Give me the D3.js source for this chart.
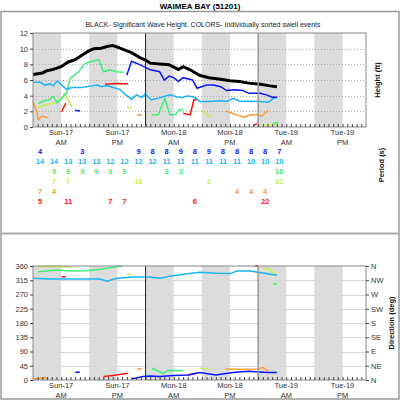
<!DOCTYPE html>
<html>
<head>
<meta charset="utf-8">
<script src="https://cdn.jsdelivr.net/npm/d3@7"></script>
<style>
body { margin: 0; background: #fff; }
text { font-family: "Liberation Sans", Arial, sans-serif; }
</style>
</head>
<body>
<div id="chart"></div>
<script>
// hours from Sun-17 00:00
var dayLabels = ["Sun-17", "Sun-17", "Mon-18", "Mon-18", "Tue-19", "Tue-19"];
var halfLabels = ["AM", "PM", "AM", "PM", "AM", "PM"];
var labelHours = [6, 18, 30, 42, 54, 66];
var bandStarts = [0, 12, 24, 36, 48, 60];
var heightTicks = [0, 2, 4, 6, 8, 10, 12];
var dirTicks = [0, 45, 90, 135, 180, 225, 270, 315, 360];
var dirNames = ["N", "NE", "E", "SE", "S", "SW", "W", "NW", "N"];

// significant wave height (ft)
var hsData = [[0,6.7],[2,6.9],[3,7.2],[4,7.3],[6,7.7],[7.5,8.3],[9,8.6],[10.5,9.2],[12,9.75],[13,10.0],[14.5,10.05],[16,10.3],[17,10.4],[18,10.2],[19.5,9.85],[21,9.5],[23,8.8],[24,8.55],[25,8.15],[27,8.05],[29,7.95],[31,7.35],[32,7.7],[33.5,7.3],[35.5,6.6],[37.5,6.3],[40,6.1],[42,5.9],[44,5.8],[46,5.6],[48.5,5.45],[50.5,5.25],[52,5.15]];

// swell heights (ft), null = gap
var blueH = [[9,2.15],[10,2.05],null,[20,6.6],[21,8.4],[23,7.9],[25,7.3],[27,7.05],[28,6.0],[29,6.5],[30,6.3],[31,5.8],[32,6.3],[34,6.0],[35,4.95],[37,5.35],[38.5,5.35],[40,5.15],[41.3,4.65],[43,4.75],[44.8,4.65],[46,4.3],[48.4,4.3],[49.8,4.1],[51,3.8],[52,3.8]];
var skyH = [[0,5.7],[1.5,5.7],[2.5,5.35],[3.6,5.5],[4.3,5.25],[5.2,5.9],[6.1,5.35],[7.2,4.8],[8.3,5.05],[10.4,5.05],[12.5,5.25],[13.6,5.35],[14.6,5.15],[15.7,5.3],[17.1,5.05],[18.5,4.8],[19.6,4.2],[21,3.55],[22.1,4.1],[23.2,3.75],[23.9,4.2],[25.3,3.45],[27.1,3.75],[29.2,4.1],[30.6,3.85],[31.7,3.75],[32.8,3.95],[34.2,3.85],[35.6,3.25],[37.7,3.25],[39.9,3.35],[41.3,3.25],[42.7,3.65],[44.1,3.3],[46.3,3.3],[48.4,3.25],[50.2,3.15],[51.2,3.65],[52.2,3.8]];
var greenH = [[1.1,2.95],[2.2,3.35],[3.3,3.45],[4.3,3.9],[5.2,3.1],[6.1,3.65],[7.2,4.4],[7.9,6.2],[9.7,7.05],[11.1,8.1],[12.5,8.35],[13.6,8.55],[14.1,8.55],[15,7.05],[16.4,7.3],[17.8,7.05],[19.3,7.0],null,[25.3,1.55],[26.7,1.55],[28.1,3.65],[29.2,1.55],[30.3,1.6],[31.3,2.25],[32,2.15],null,[51.2,0.55],[52.2,0.55]];
var limeH = [[1.1,2.5],[2.6,2.8],[4,3.0],[5.4,3.25],[6.8,4.2],[8.3,2.5],null,[20,2.5],[21,2.5],null,[36,2.15],[37.4,1.4],[38.1,1.3],null,[49,0.15],[50.5,0.25],[52,0.3]];
var orangeH = [[0,3.25],[0.8,1.95],[1.1,0.9],[1.9,1.4],[2.6,1.25],[3.3,1.25],null,[22.2,1.5],[23.2,1.55],null,[41.2,2.05],[42.4,1.75],[43.4,1.55],[45.2,1.25],[46.3,1.55],[47.7,1.55],[48.8,1.4],[50.2,2.15]];
var redH = [[6.1,1.95],[7,3.05],null,[15.4,5.45],[17.8,5.55],[20.3,5.5],null,[32,1.75],[33.5,1.55],[34.3,3.45],[35,3.55],null,[47,0.25],[47.8,0.4]];

// swell directions (deg)
var blueD = [[9,24],[10,25],null,[21,3],[23.5,11],[25,13],[27,11],[30,14],[33,16],[35.6,24],[39,16],[42.6,24],[46,28],[50,24],[52,24]];
var skyD = [[0,321],[3.6,319],[7.2,319],[10.7,319],[14.3,319],[15.8,312],[17.9,321],[21.3,325],[24.9,325],[27.1,321],[29.2,328],[32,334],[35.6,340],[39.2,337],[42,336],[43.5,344],[46.3,344],[48,340],[52,331]];
var greenD = [[1.1,342],[5.1,347],[7.9,344],[11.5,345],[14.3,350],[17,356],[19,360],null,[25.4,37],[27.7,21],[28.8,30],[32,30],null,[51.2,302],[52,305]];
var limeD = [[1,358],[4,359],[8.3,357],null,[20,334],[21,334],null,[35.6,37],[37.7,32],null,[49,350],[50,352],[52,333]];
var orangeD = [[0,3],[1,5],[2,7],[3.3,6],null,[22.2,35],[23.2,35],null,[41,35],[44,34],[48,35],[49,39],[50.2,28]];
var redD = [[6.1,326],[7,326],null,[15,11],[17,14],[20.3,21],null,[33,16],[35,21],null,[47.3,360],[48,360]];

// periods (s), one column every 3 hours starting at 01:30
var periodBlue = [4,null,null,3,null,null,null,9,8,8,9,8,9,8,8,8,8,7];
var periodSky = [14,14,13,13,13,12,12,12,12,11,11,11,11,11,11,10,10,10];
var periodGreen = [null,9,9,9,9,9,9,null,null,3,3,null,null,null,null,null,null,16];
var periodLime = [null,7,7,null,null,null,null,11,null,null,null,null,3,null,null,null,null,22];
var periodOrange = [7,4,null,null,null,null,null,null,null,null,null,null,null,null,4,4,4,null];
var periodRed = [5,null,11,null,null,7,7,null,null,null,null,6,null,null,null,null,22,null];

var colors = { blue: "#0a14ff", sky: "#1ab4f5", green: "#3cf078", lime: "#c3f04b", orange: "#ff9a33", red: "#ff1010" };

var w = 400, h = 400;
var svg = d3.select("#chart").append("svg")
	.attr("width", w)
	.attr("height", h);

var xScale = d3.scaleLinear().domain([0, 71]).range([33, 366]);
var yTop = d3.scaleLinear().domain([0, 12]).range([127, 33]);
var yDir = d3.scaleLinear().domain([0, 360]).range([380, 266]);

// outer frame and separator
svg.append("rect").attr("x", 1).attr("y", 11.5).attr("width", 398).attr("height", 387.5)
	.attr("fill", "none").attr("stroke", "#999").attr("stroke-width", 1.5);
svg.append("line").attr("x1", 1).attr("x2", 399).attr("y1", 233.5).attr("y2", 233.5)
	.attr("stroke", "#aaa").attr("stroke-width", 2);

svg.append("text").attr("x", 200).attr("y", 9).attr("text-anchor", "middle")
	.attr("font-size", 8).attr("font-weight", "bold").text("WAIMEA BAY (51201)");
svg.append("text").attr("x", 203).attr("y", 27).attr("text-anchor", "middle")
	.attr("font-size", 7).attr("fill", "#222")
	.text("BLACK- Significant Wave Height.  COLORS- Individually sorted swell events");

function drawPanel(yScale, top, bottom, gridDash, gridColor, gridValues) {
	var g = svg.append("g");
	g.selectAll("rect.band").data(bandStarts).enter().append("rect")
		.attr("x", function(d) { return xScale(d); })
		.attr("y", top)
		.attr("width", function(d) { return xScale(d + 6) - xScale(d); })
		.attr("height", bottom - top)
		.attr("fill", "#dcdcdc");
	g.selectAll("line.grid").data(gridValues).enter().append("line")
		.attr("x1", xScale(0)).attr("x2", xScale(71))
		.attr("y1", function(d) { return Math.round(yScale(d)) + 0.5; })
		.attr("y2", function(d) { return Math.round(yScale(d)) + 0.5; })
		.attr("stroke", gridColor)
		.attr("stroke-dasharray", gridDash);
	return g;
}

var topG = drawPanel(yTop, 33, 127, "1,2", "#aaa", [2, 4, 6, 8, 10]);
var botG = drawPanel(yDir, 266, 380, null, "#d8d8d8", [45, 90, 135, 180, 225, 270, 315]);

var lineTop = d3.line()
	.defined(function(d) { return d !== null; })
	.x(function(d) { return xScale(d[0]); })
	.y(function(d) { return yTop(d[1]); });
var lineDir = d3.line()
	.defined(function(d) { return d !== null; })
	.x(function(d) { return xScale(d[0]); })
	.y(function(d) { return yDir(d[1]); });

var topSeries = [[orangeH, colors.orange], [redH, colors.red], [limeH, colors.lime], [greenH, colors.green], [skyH, colors.sky], [blueH, colors.blue]];
topSeries.forEach(function(s) {
	topG.append("path").attr("d", lineTop(s[0])).attr("fill", "none")
		.attr("stroke", s[1]).attr("stroke-width", 1.5);
});
topG.append("path").attr("d", lineTop(hsData)).attr("fill", "none")
	.attr("stroke", "#000").attr("stroke-width", 3);

var dirSeries = [[orangeD, colors.orange], [redD, colors.red], [limeD, colors.lime], [greenD, colors.green], [skyD, colors.sky], [blueD, colors.blue]];
dirSeries.forEach(function(s) {
	botG.append("path").attr("d", lineDir(s[0])).attr("fill", "none")
		.attr("stroke", s[1]).attr("stroke-width", 1.5);
});

// markers at Mon-18 00:00 and Tue-19 00:00
[[topG, 33, 127], [botG, 266, 380]].forEach(function(p) {
	p[0].append("line").attr("x1", xScale(24)).attr("x2", xScale(24))
		.attr("y1", p[1]).attr("y2", p[2]).attr("stroke", "#222");
	p[0].append("line").attr("x1", xScale(48)).attr("x2", xScale(48))
		.attr("y1", p[1]).attr("y2", p[2]).attr("stroke", "#999").attr("stroke-width", 1.5);
	p[0].append("rect").attr("x", 33).attr("y", p[1]).attr("width", 333).attr("height", p[2] - p[1])
		.attr("fill", "none").attr("stroke", "#888");
});

function styleAxis(g) {
	g.select(".domain").remove();
	g.selectAll("line").attr("stroke", "#444");
	g.selectAll("text").attr("font-size", 7.5).attr("fill", "#333")
		.attr("font-family", "'Liberation Sans', Arial, sans-serif");
}

svg.append("g").attr("transform", "translate(33,0)")
	.call(d3.axisLeft(yTop).tickValues(heightTicks).tickSize(3).tickPadding(2))
	.call(styleAxis);
svg.append("g").attr("transform", "translate(33,0)")
	.call(d3.axisLeft(yDir).tickValues(dirTicks).tickSize(3).tickPadding(2))
	.call(styleAxis);
svg.append("g").attr("transform", "translate(366,0)")
	.call(d3.axisRight(yDir).tickValues(dirTicks).tickSize(3).tickPadding(2)
		.tickFormat(function(d, i) { return dirNames[i]; }))
	.call(styleAxis);

// hourly ticks along the time axes
[127, 380].forEach(function(y0) {
	svg.append("g").attr("transform", "translate(0," + y0 + ")")
		.call(d3.axisBottom(xScale).tickValues(d3.range(1, 71)).tickSize(-3).tickFormat(""))
		.call(styleAxis);
	var lab = svg.append("g");
	lab.selectAll("text.day").data(labelHours).enter().append("text")
		.attr("x", function(d) { return xScale(d); })
		.attr("y", y0 + 8)
		.attr("text-anchor", "middle").attr("font-size", 7.5).attr("fill", "#333")
		.text(function(d, i) { return dayLabels[i]; });
	lab.selectAll("text.half").data(labelHours).enter().append("text")
		.attr("x", function(d) { return xScale(d); })
		.attr("y", y0 + 18)
		.attr("text-anchor", "middle").attr("font-size", 7.5).attr("fill", "#333")
		.text(function(d, i) { return halfLabels[i]; });
});

// period table
var periodRows = [[periodBlue, colors.blue], [periodSky, colors.sky], [periodGreen, colors.green], [periodLime, colors.lime], [periodOrange, colors.orange], [periodRed, colors.red]];
periodRows.forEach(function(row, r) {
	var cells = row[0].map(function(v, i) { return { v: v, t: 1.5 + 3 * i }; })
		.filter(function(d) { return d.v !== null; });
	svg.append("g").selectAll("text").data(cells).enter().append("text")
		.attr("x", function(d) { return xScale(d.t); })
		.attr("y", 154 + 10 * r)
		.attr("text-anchor", "middle")
		.attr("font-size", 7.5).attr("font-weight", "bold")
		.attr("fill", row[1])
		.text(function(d) { return d.v; });
});

// side titles
[["Height (ft)", 380, 80], ["Period (s)", 384, 165], ["Direction (deg)", 394, 323]].forEach(function(a) {
	svg.append("text")
		.attr("transform", "translate(" + a[1] + "," + a[2] + ") rotate(-90)")
		.attr("text-anchor", "middle")
		.attr("font-size", 7.5).attr("font-weight", "bold").attr("fill", "#111")
		.text(a[0]);
});
</script>
</body>
</html>
